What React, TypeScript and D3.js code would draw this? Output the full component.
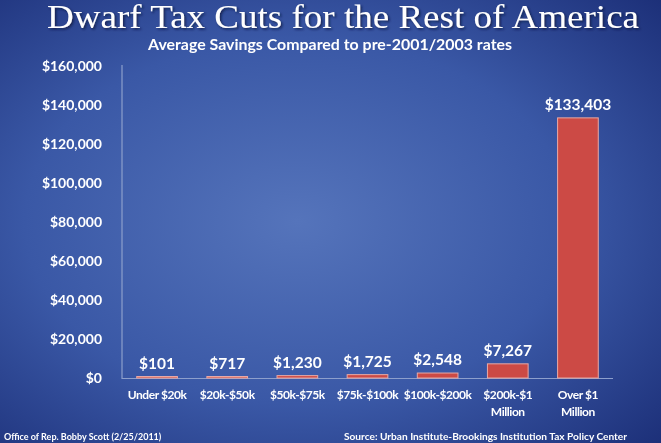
import React from "react";
import * as d3 from "d3";

const categories: string[][] = [
  ["Under $20k"],
  ["$20k-$50k"],
  ["$50k-$75k"],
  ["$75k-$100k"],
  ["$100k-$200k"],
  ["$200k-$1", "Million"],
  ["Over $1", "Million"],
];
const savings: number[] = [101, 717, 1230, 1725, 2548, 7267, 133403];
const valueLabels: string[] = ["$101", "$717", "$1,230", "$1,725", "$2,548", "$7,267", "$133,403"];
const yTicks: number[] = [0, 20000, 40000, 60000, 80000, 100000, 120000, 140000, 160000];

const W = 661;
const H = 443;
const left = 122;
const right = 613;
const top = 66;
const bottom = 378;

export default function App() {
  const x = d3
    .scaleBand<number>()
    .domain(d3.range(categories.length))
    .range([left, right])
    .paddingInner(0.42)
    .paddingOuter(0.21);
  const y = d3.scaleLinear().domain([0, 160000]).range([bottom, top]);
  const fmt = (v: number) => "$" + d3.format(",")(v);
  const font = "Lato, 'Open Sans', sans-serif";

  return (
    <div style={{ position: "fixed", left: 0, top: 0, width: W, height: H }}>
      <svg width={W} height={H} style={{ display: "block" }}>
        <defs>
          <radialGradient id="bg" cx="0.45" cy="0.5" r="0.75">
            <stop offset="0" stopColor="#5574bb" />
            <stop offset="0.55" stopColor="#3a58a6" />
            <stop offset="1" stopColor="#1c2f78" />
          </radialGradient>
          <filter id="shadow" x="-5%" y="-20%" width="110%" height="150%">
            <feDropShadow dx="1.5" dy="1.5" stdDeviation="1" floodColor="#0a1540" floodOpacity="0.8" />
          </filter>
        </defs>
        <rect x={0} y={0} width={W} height={H} fill="url(#bg)" />

        <text
          x={343}
          y={28}
          textAnchor="middle"
          fill="#ffffff"
          fontFamily="'Liberation Serif', 'DejaVu Serif', serif"
          fontSize={33}
          textLength={592}
          lengthAdjust="spacingAndGlyphs"
          filter="url(#shadow)"
        >
          Dwarf Tax Cuts for the Rest of America
        </text>
        <text
          x={330}
          y={50}
          textAnchor="middle"
          fill="#ffffff"
          fontFamily={font}
          fontWeight="bold"
          fontSize={15}
          textLength={364}
          lengthAdjust="spacingAndGlyphs"
        >
          Average Savings Compared to pre-2001/2003 rates
        </text>

        {/* axes */}
        <line x1={left} x2={left} y1={top - 1} y2={bottom + 1} stroke="#8d9fcc" strokeWidth={1.2} />
        <line x1={left} x2={right} y1={bottom + 0.5} y2={bottom + 0.5} stroke="#8d9fcc" strokeWidth={1.2} />
        {yTicks.map((t) => (
          <text
            key={t}
            x={102}
            y={y(t) + 5}
            textAnchor="end"
            fill="#ffffff"
            fontFamily={font}
            fontWeight="bold"
            fontSize={14}
          >
            {fmt(t)}
          </text>
        ))}

        {/* bars */}
        {savings.map((v, i) => {
          const bx = x(i)!;
          const by = y(v);
          const h = Math.max(bottom - by, 1.5);
          return (
            <g key={i}>
              <rect
                x={bx}
                y={bottom - h}
                width={x.bandwidth()}
                height={h}
                fill="#cc4a45"
                stroke="#e7a9a6"
                strokeWidth={1}
              />
              <text
                x={bx + x.bandwidth() / 2}
                y={bottom - h - 8}
                textAnchor="middle"
                fill="#ffffff"
                fontFamily={font}
                fontWeight="bold"
                fontSize={15.5}
              >
                {valueLabels[i]}
              </text>
              {categories[i].map((line, j) => (
                <text
                  key={j}
                  x={bx + x.bandwidth() / 2}
                  y={399 + j * 17}
                  textAnchor="middle"
                  fill="#ffffff"
                  fontFamily={font}
                  fontWeight="bold"
                  fontSize={12}
                  letterSpacing={-0.45}
                >
                  {line}
                </text>
              ))}
            </g>
          );
        })}

        <text x={4} y={440} fill="#ffffff" fontFamily={font} fontWeight="bold" fontSize={9}>
          Office of Rep. Bobby Scott (2/25/2011)
        </text>
        <text
          x={627}
          y={440}
          textAnchor="end"
          fill="#ffffff"
          fontFamily={font}
          fontWeight="bold"
          fontSize={9.5}
          textLength={283}
          lengthAdjust="spacingAndGlyphs"
        >
          Source:  Urban Institute-Brookings Institution Tax Policy Center
        </text>
      </svg>
    </div>
  );
}
